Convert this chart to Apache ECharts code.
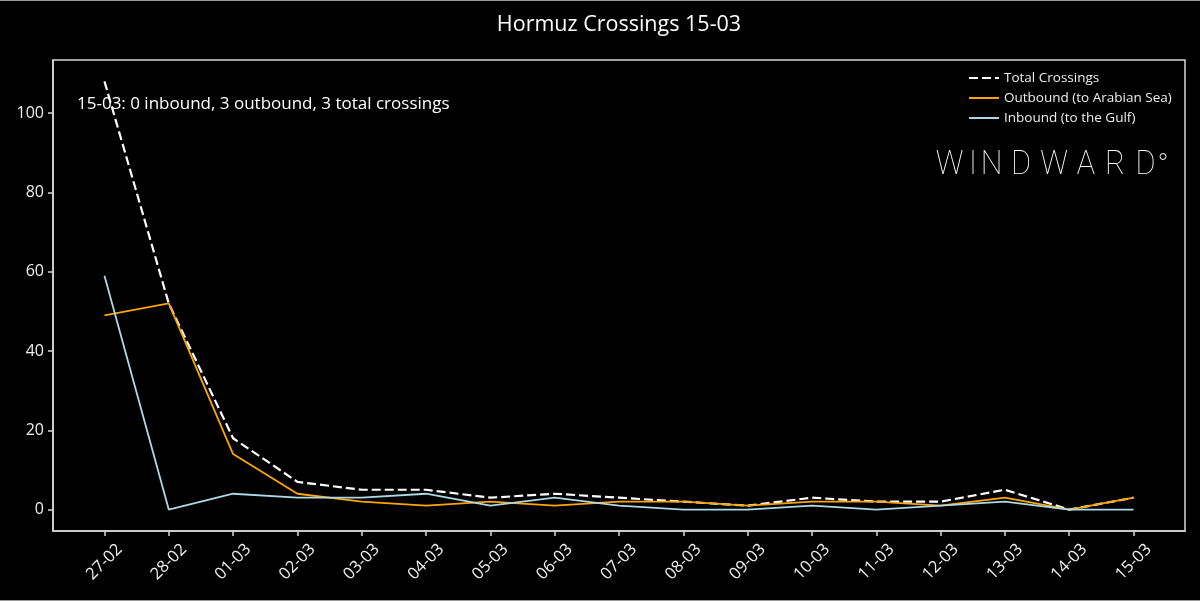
<!DOCTYPE html>
<html>
<head>
<meta charset="utf-8">
<script src="https://cdn.jsdelivr.net/npm/echarts@6/dist/echarts.min.js"></script>
<style>
html,body{margin:0;padding:0;background:#000;}
#chart{width:1200px;height:601px;}
</style>
</head>
<body>
<div id="chart"></div>
<script>
const categories = ['27-02','28-02','01-03','02-03','03-03','04-03','05-03','06-03','07-03','08-03','09-03','10-03','11-03','12-03','13-03','14-03','15-03'];
const totalCrossings = [108, 52, 18, 7, 5, 5, 3, 4, 3, 2, 1, 3, 2, 2, 5, 0, 3];
const outbound = [49, 52, 14, 4, 2, 1, 2, 1, 2, 2, 1, 2, 2, 1, 3, 0, 3];
const inbound = [59, 0, 4, 3, 3, 4, 1, 3, 1, 0, 0, 1, 0, 1, 2, 0, 0];
const yTicks = [0, 20, 40, 60, 80, 100];
const titleText = 'Hormuz Crossings 15-03';
const noteText = '15-03: 0 inbound, 3 outbound, 3 total crossings';

const FONT = 'Open Sans';
const idx = categories.map((c, i) => i);
const pairs = arr => arr.map((v, i) => [i, v]);

const chart = echarts.init(document.getElementById('chart'), null, {renderer: 'canvas'});
const logoLetters = ['W','I','N','D','W','A','R','D'];
const logoCx = [949.5, 973, 991.5, 1021, 1054, 1086, 1115, 1145.5];

chart.setOption({
  backgroundColor: '#000',
  animation: false,
  textStyle: {fontFamily: FONT},
  grid: {left: 53, right: 15, top: 60, bottom: 70, show: true, borderColor: '#d8d8d8', borderWidth: 1.5, backgroundColor: 'transparent'},
  xAxis: {
    type: 'value', min: -0.8, max: 16.8,
    splitLine: {show: false},
    axisLine: {show: true, onZero: false, lineStyle: {color: '#d8d8d8', width: 1.5}},
    axisTick: {show: true, customValues: idx, length: 5, lineStyle: {color: '#d8d8d8', width: 1.5}},
    axisLabel: {customValues: idx, rotate: 45, align: 'center', verticalAlign: 'middle', color: '#eeeeee', fontSize: 16.5, fontFamily: FONT, margin: 31,
      formatter: v => categories[Math.round(v)]}
  },
  yAxis: {
    type: 'value', min: -5.4, max: 113.4,
    splitLine: {show: false},
    axisLine: {show: true, onZero: false, lineStyle: {color: '#d8d8d8', width: 1.5}},
    axisTick: {show: true, customValues: yTicks, length: 5, lineStyle: {color: '#d8d8d8', width: 1.5}},
    axisLabel: {customValues: yTicks, color: '#eeeeee', fontSize: 16, fontFamily: FONT, margin: 9}
  },
  legend: {
    orient: 'vertical', left: 963, top: 66, itemWidth: 30, itemHeight: 14, itemGap: 6,
    itemStyle: {opacity: 0},
    textStyle: {color: '#eeeeee', fontSize: 13.5, fontFamily: FONT},
    data: ['Total Crossings', 'Outbound (to Arabian Sea)', 'Inbound (to the Gulf)']
  },
  graphic: [
    {type: 'text', x: 619, y: 25, style: {text: titleText, fill: '#ffffff', fontSize: 21.5, fontFamily: FONT, align: 'center', verticalAlign: 'middle'}},
    {type: 'text', x: 77, y: 104, style: {text: noteText, fill: '#ffffff', fontSize: 17, fontFamily: FONT, verticalAlign: 'middle'}},
    ...logoLetters.map((ch, i) => ({type: 'text', x: logoCx[i], y: 165.5, scaleX: 0.9, style: {text: ch, fill: '#ffffff', fontSize: 34, fontWeight: 100, fontFamily: 'Roboto', align: 'center', verticalAlign: 'middle'}})),
    {type: 'circle', shape: {cx: 1163, cy: 156.5, r: 3}, style: {fill: 'none', stroke: '#ffffff', lineWidth: 1}},
    {type: 'line', shape: {x1: 0, y1: 0.5, x2: 1200, y2: 0.5}, style: {stroke: '#999', lineWidth: 1}},
    {type: 'line', shape: {x1: 0, y1: 600.5, x2: 1200, y2: 600.5}, style: {stroke: '#999', lineWidth: 1}}
  ],
  series: [
    {name: 'Total Crossings', type: 'line', data: pairs(totalCrossings), symbol: 'none',
      lineStyle: {color: '#ffffff', width: 2.2, type: [9, 4]}, itemStyle: {color: '#ffffff'}},
    {name: 'Outbound (to Arabian Sea)', type: 'line', data: pairs(outbound), symbol: 'none',
      lineStyle: {color: '#FFA500', width: 1.8}, itemStyle: {color: '#FFA500'}},
    {name: 'Inbound (to the Gulf)', type: 'line', data: pairs(inbound), symbol: 'none',
      lineStyle: {color: '#ADD8E6', width: 1.8}, itemStyle: {color: '#ADD8E6'}}
  ]
});
</script>
</body>
</html>
